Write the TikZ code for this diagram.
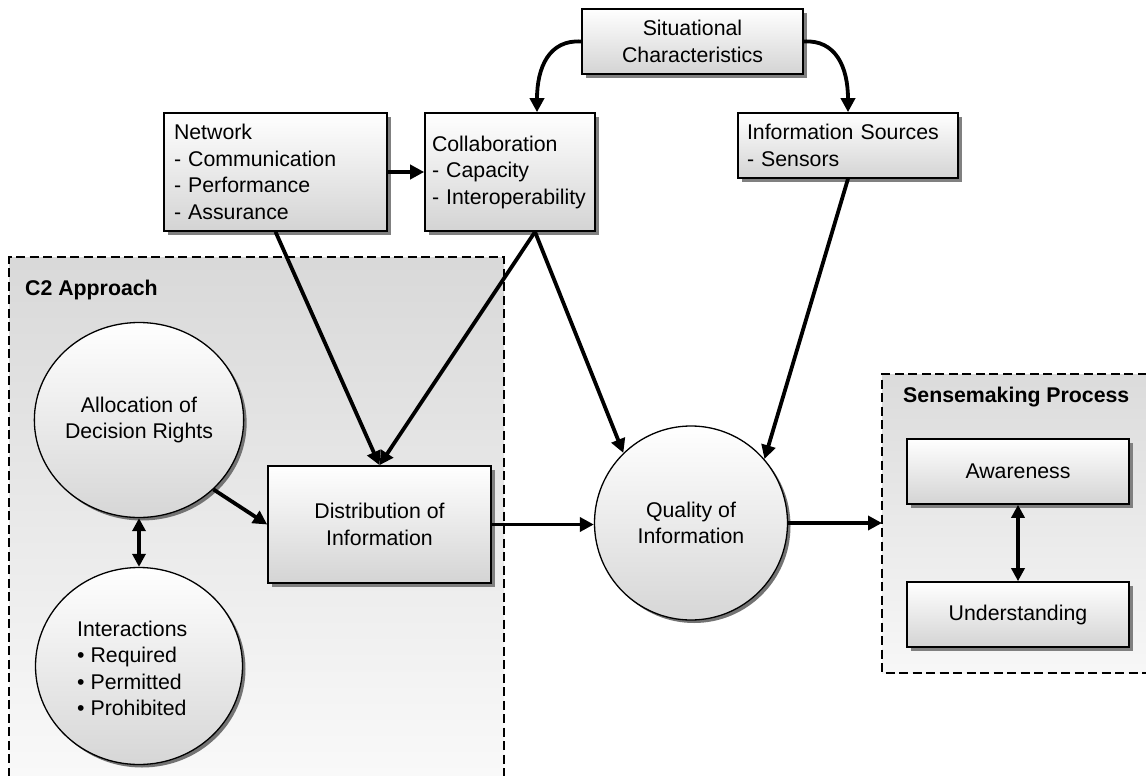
\documentclass[tikz,border=0pt]{standalone}
\usepackage{fontspec}
\setmainfont{Liberation Sans}
\usetikzlibrary{arrows.meta,shadows,calc,shapes.geometric}

\tikzset{
  txt/.style={font=\fontsize{21.3}{26.5}\selectfont},
  boldtxt/.style={font=\fontsize{21.3}{26.5}\selectfont\bfseries},
  boxnode/.style={txt, draw=black, line width=1.6pt, top color=white,
    bottom color=black!17, inner sep=0pt,
    drop shadow={shadow xshift=4pt, shadow yshift=-4pt, fill=black!50, opacity=1}},
  ellnode/.style={txt, ellipse, draw=black, line width=1.3pt, top color=white,
    bottom color=black!16, inner sep=0pt, align=center,
    drop shadow={shadow xshift=3pt, shadow yshift=-3pt, fill=black!55, opacity=1}},
  frameline/.style={line width=1.3pt, dash pattern=on 9pt off 4.5pt},
  arr/.style={line width=3.8pt, -{Triangle[length=14pt, width=14pt]}},
  darr/.style={line width=3.6pt, {Triangle[length=13pt, width=13pt]}-{Triangle[length=13pt, width=13pt]}},
}

\begin{document}
\hyphenpenalty=10000
\begin{tikzpicture}[x=1pt, y=-1pt]
\useasboundingbox (0,0) rectangle (1146,776);
\clip (0,0) rectangle (1146,776);

% C2 approach frame (open at the bottom)
\fill[top color=black!15, bottom color=black!2] (9,257) rectangle (504,790);
\draw[frameline] (9,790) -- (9,257) -- (504,257) -- (504,790);
\node[boldtxt, anchor=west, inner sep=0pt] (c2label) at (25,290) {C2 Approach};

% Sensemaking frame (open at the right)
\fill[top color=black!14, bottom color=black!3] (882,374) rectangle (1160,673);
\draw[frameline] (1160,374) -- (882,374) -- (882,673) -- (1160,673);
\node[boldtxt, anchor=west, inner sep=0pt] (smlabel) at (903,397) {Sensemaking Process};
\coordinate (sm) at (882,523);

% boxes
\node[boxnode, minimum width=221pt, minimum height=65pt, align=center] (sit) at (692.5,41.5)
  {Situational\\Characteristics};
\node[boxnode, minimum width=223pt, minimum height=118pt, text width=203pt, align=left] (net) at (275.5,172)
  {Network\\- Communication\\- Performance\\- Assurance};
\node[boxnode, minimum width=170pt, minimum height=118pt, text width=156pt, align=left] (col) at (510,172)
  {Collaboration\\- Capacity\\- Interoperability};
\node[boxnode, minimum width=220pt, minimum height=65pt, text width=202pt, align=left] (info) at (848,145.5)
  {Information Sources\\- Sensors};
\node[boxnode, minimum width=223pt, minimum height=117pt, align=center] (dist) at (379.5,524.5)
  {Distribution of\\Information};
\node[boxnode, minimum width=222pt, minimum height=65pt] (aw) at (1018,471.5) {Awareness};
\node[boxnode, minimum width=222pt, minimum height=65pt] (und) at (1018,614.5) {Understanding};

% circles
\node[ellnode, minimum width=207pt, minimum height=195pt] (alloc) at (139,420)
  {Allocation of\\Decision Rights};
\node[ellnode, minimum width=207pt, minimum height=197pt] (inter) at (139,666) {};
\node[txt, anchor=west, align=left, inner sep=0pt] (intertext) at (77,668.5)
  {Interactions\\• Required\\• Permitted\\• Prohibited};
\node[ellnode, minimum width=193pt, minimum height=194pt] (q) at (691,523)
  {Quality of\\Information};

% connectors
\draw[arr] (sit.west) .. controls +(-32,-2) and +(0,-45) .. ($(col.north)+(27,0)$);
\draw[arr] (sit.east) .. controls +(32,-2) and +(0,-45) .. (info.north);
\draw[arr] (net.east) -- (col.west);
\draw[arr] (net.south) -- (dist.north);
\draw[arr] ($(col.south)+(25,0)$) -- (dist.north);
\draw[arr] ($(col.south)+(25,0)$) -- (q.134);
\draw[arr] (info.south) -- (q.41);
\draw[arr] (alloc.-43) -- (dist.west);
\draw[arr] (dist.east) -- (dist.east -| q.west);
\draw[arr] (q.east) -- (sm);
\draw[darr] (alloc.south) -- (inter.north);
\draw[darr] (aw.south) -- (und.north);
\end{tikzpicture}
\end{document}
